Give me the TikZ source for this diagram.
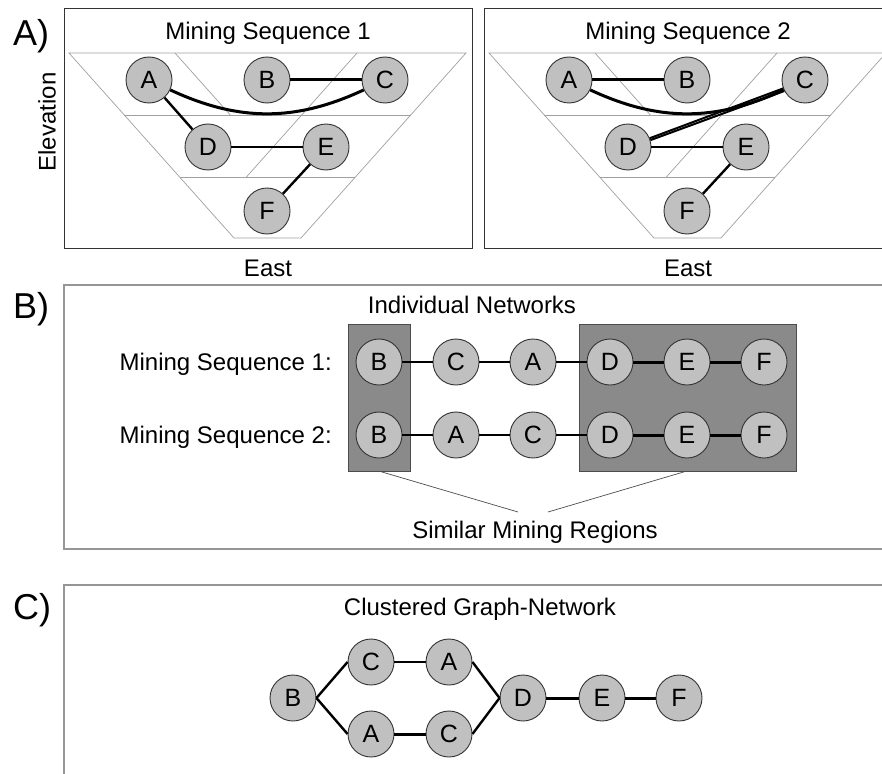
\documentclass[tikz,border=0pt]{standalone}
\usepackage{fontspec}
\setmainfont{Liberation Sans}
\definecolor{ngray}{RGB}{192,192,192}
\definecolor{rgray}{RGB}{138,138,138}
\definecolor{fgray}{RGB}{150,150,150}
\definecolor{lgray}{RGB}{160,160,160}
\begin{document}
\begin{tikzpicture}[x=1pt,y=-1pt,
  mnode/.style={circle,draw=black!80,line width=0.9pt,fill=ngray,minimum size=46pt,inner sep=0pt,font=\fontsize{25}{25}\selectfont},
  ttl/.style={font=\fontsize{24}{28}\selectfont,inner sep=0pt,anchor=base},
  plabel/.style={font=\fontsize{36}{40}\selectfont,inner sep=0pt,anchor=base west},
  frameA/.style={draw=black!80,line width=0.9pt},
  frameB/.style={draw=fgray,line width=1.4pt},
  bench/.style={draw=lgray,line width=0.7pt},
  regbox/.style={draw=black!70,line width=0.8pt,fill=rgray,inner sep=0pt},
  ethree/.style={line width=3pt},
  etwo/.style={line width=2pt},
  etwofive/.style={line width=2.4pt},
  pointer/.style={draw=black!70,line width=0.7pt}
]
\useasboundingbox (0,0) rectangle (882,773);
\clip (0,0) rectangle (882,773);

% ---------------- Panel A ----------------
\node[plabel] (labA) at (13,46) {A)};
\node[font=\fontsize{24}{28}\selectfont,inner sep=0pt,rotate=90] (elev) at (47,122) {Elevation};

\foreach \s in {0,420}{
  \begin{scope}[xshift=\s]
    \draw[frameA] (64,8) rectangle (472,248);
    \draw[bench] (69,53) -- (234,238) -- (301,238) -- (466,53) -- cycle;
    \draw[bench] (124.3,115) -- (410.7,115);
    \draw[bench] (179.6,177) -- (355.4,177);
    \draw[bench] (175,53) -- (230.3,115);
    \draw[bench] (357,53) -- (246.4,177);
  \end{scope}
}

\node[ttl] (t1) at (268,39.5) {Mining Sequence 1};
\node[ttl] (t2) at (688,39.5) {Mining Sequence 2};
\node[ttl] (east1) at (268,276) {East};
\node[ttl] (east2) at (688,276) {East};

% left pit
\node[mnode] (lA) at (149,80) {A};
\node[mnode] (lB) at (267,80) {B};
\node[mnode] (lC) at (385,80) {C};
\node[mnode] (lD) at (208,147) {D};
\node[mnode] (lE) at (326,147) {E};
\node[mnode] (lF) at (267,211) {F};
\draw[ethree] (lB) -- (lC);
\draw[ethree] (lA) to[out=-25,in=-155] (lC);
\draw[etwofive] (lA) -- (lD);
\draw[etwo] (lD) -- (lE);
\draw[etwofive] (lE) -- (lF);

% right pit
\node[mnode] (rA) at (569,80) {A};
\node[mnode] (rB) at (687,80) {B};
\node[mnode] (rC) at (805,80) {C};
\node[mnode] (rD) at (628,147) {D};
\node[mnode] (rE) at (746,147) {E};
\node[mnode] (rF) at (687,211) {F};
\draw[ethree] (rA) -- (rB);
\draw[ethree] (rA) to[out=-25,in=-155] (rC);
\draw[etwo] (rD.22) -- (rC.201);
\draw[etwo] (rD.17) -- (rC.208);
\draw[etwo] (rD) -- (rE);
\draw[etwofive] (rE) -- (rF);

% ---------------- Panel B ----------------
\node[plabel] (labB) at (13,318) {B)};
\draw[frameB] (64,285) rectangle (892,549);
\node[ttl] (tB) at (472,313) {Individual Networks};
\node[font=\fontsize{24}{28}\selectfont,inner sep=0pt,anchor=base east] (seq1) at (332,370) {Mining Sequence 1:};
\node[font=\fontsize{24}{28}\selectfont,inner sep=0pt,anchor=base east] (seq2) at (332,443) {Mining Sequence 2:};

\node[regbox,minimum width=62pt,minimum height=147pt] (reg1) at (379,397.5) {};
\node[regbox,minimum width=217pt,minimum height=147pt] (reg2) at (687.5,397.5) {};

\node[mnode] (p1B) at (379,362) {B};
\node[mnode] (p1C) at (456,362) {C};
\node[mnode] (p1A) at (533,362) {A};
\node[mnode] (p1D) at (610,362) {D};
\node[mnode] (p1E) at (687,362) {E};
\node[mnode] (p1F) at (764,362) {F};
\node[mnode] (p2B) at (379,435) {B};
\node[mnode] (p2A) at (456,435) {A};
\node[mnode] (p2C) at (533,435) {C};
\node[mnode] (p2D) at (610,435) {D};
\node[mnode] (p2E) at (687,435) {E};
\node[mnode] (p2F) at (764,435) {F};
\draw[etwo] (p1B) -- (p1C);
\draw[etwo] (p1C) -- (p1A);
\draw[etwofive] (p1A) -- (p1D);
\draw[ethree] (p1D) -- (p1E);
\draw[ethree] (p1E) -- (p1F);
\draw[etwo] (p2B) -- (p2A);
\draw[etwo] (p2A) -- (p2C);
\draw[etwofive] (p2C) -- (p2D);
\draw[ethree] (p2D) -- (p2E);
\draw[ethree] (p2E) -- (p2F);

\coordinate (simL) at (518,512);
\coordinate (simR) at (548,512);
\draw[pointer] ([xshift=1pt]reg1.south) -- (simL);
\draw[pointer] ([xshift=-2pt]reg2.south) -- (simR);
\node[ttl] (sim) at (535,538) {Similar Mining Regions};

% ---------------- Panel C ----------------
\node[plabel] (labC) at (13,619) {C)};
\draw[frameB] (892,585) -- (64,585) -- (64,790);
\node[ttl] (tC) at (480,615) {Clustered Graph-Network};

\node[mnode] (cB) at (293,698) {B};
\node[mnode] (cC1) at (371,662) {C};
\node[mnode] (cA1) at (449,662) {A};
\node[mnode] (cA2) at (371,734) {A};
\node[mnode] (cC2) at (449,734) {C};
\node[mnode] (cD) at (523,698) {D};
\node[mnode] (cE) at (602,698) {E};
\node[mnode] (cF) at (679,698) {F};
\draw[etwofive] (cB.east) -- (cC1.west);
\draw[etwofive] (cB.east) -- (cA2.west);
\draw[etwo] (cC1) -- (cA1);
\draw[ethree] (cA2) -- (cC2);
\draw[etwofive] (cA1.east) -- (cD.west);
\draw[etwofive] (cC2.east) -- (cD.west);
\draw[ethree] (cD) -- (cE);
\draw[ethree] (cE) -- (cF);
\end{tikzpicture}
\end{document}
